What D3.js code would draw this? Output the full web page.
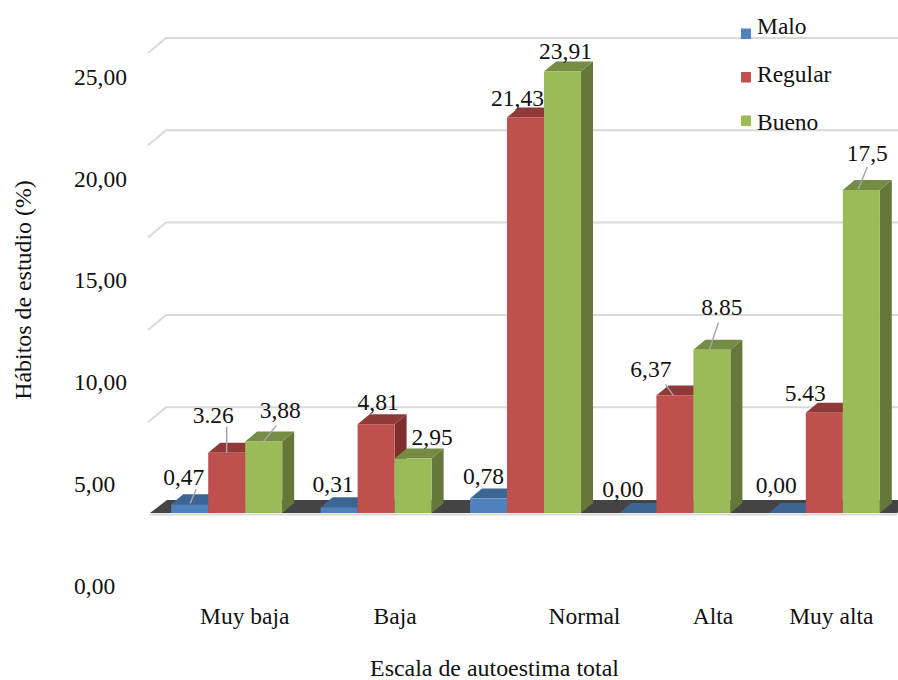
<!DOCTYPE html>
<html><head><meta charset="utf-8">
<script src="https://cdn.jsdelivr.net/npm/d3@7/dist/d3.min.js"></script>
<style>html,body{margin:0;background:#fff}svg{display:block}text{font-family:"Liberation Serif",serif;fill:#111}</style>
</head><body><svg id="c" width="898" height="680"></svg>
<script>
const categories = ["Muy baja","Baja","Normal","Alta","Muy alta"];
const seriesNames = ["Malo","Regular","Bueno"];
const malo = [0.47,0.31,0.78,0,0];
const regular = [3.26,4.81,21.43,6.37,5.43];
const bueno = [3.88,2.95,23.91,8.85,17.5];
const maloLabels = ["0,47","0,31","0,78","0,00","0,00"];
const regularLabels = ["3.26","4,81","21,43","6,37","5.43"];
const buenoLabels = ["3,88","2,95","23,91","8.85","17,5"];
const tickValues = [0,5,10,15,20,25];

// layout
const colors = [
 {front:"#4f81bd",top:"#3d6594",side:"#335680"},
 {front:"#c0504d",top:"#8f3a38",side:"#7f2f2d"},
 {front:"#9bbb59",top:"#748c43",side:"#65783a"}];
const labelOffsets = [
 [[-6,-19],[-6,-15],[-5,-14.6],[-15,-16],[-11,-20]],
 [[-13.5,-30],[2,-14],[-8,-11],[-24,-18],[-19,-11.6]],
 [[16.5,-23],[19,-13.5],[3,-13],[10,-35],[6,-29]]];
const leaders = [ // series, category, from dx,dy, to dx,dy relative to bar top centre
 [0,0,6.5,-15,0.5,-1],[1,0,0,-26,0,0],[2,0,12.5,-16,0,0],
 [1,3,-9.5,-11,-1.5,0],[2,3,6.5,-27,-2.5,0],[2,4,6,-23,-3,-1]];
const catDx = [18,19,59,38,7];
const FS = 23.5, D = {x:12,y:-10};

const svg = d3.select("#c");
const x0 = d3.scaleBand().domain(categories).range([152,899]).paddingInner(0.2570).paddingOuter(0.1285);
const x1 = d3.scaleBand().domain(seriesNames).range([0,x0.bandwidth()]);
const y = d3.scaleLinear().domain([0,25]).range([513,51.5]);
const yTick = d3.scaleLinear().domain([0,25]).range([585.5,77]);
const series = [malo,regular,bueno], labels = [maloLabels,regularLabels,buenoLabels];

// gridlines
const wall = {dx:18,dy:-15,back:-13.5};
const grid = svg.append("g").attr("fill","none").attr("stroke","#d9d9d9").attr("stroke-width",2);
tickValues.filter(v=>v>0).forEach(v=>{
  const yb = y(v)+wall.back;
  grid.append("path").attr("d",`M${148},${yb-wall.dy}L${148+wall.dx},${yb}L898,${yb}`);
});
// floor
const y0 = y(0);
svg.append("path").attr("d",`M${150},${y0}L${167},${y0-13}L915,${y0-13}L897,${y0}Z`).attr("fill","#444");
svg.append("line").attr("x1",150).attr("x2",897).attr("y1",y0+1.5).attr("y2",y0+1.5).attr("stroke","#d9d9d9").attr("stroke-width",2);

// bars
categories.forEach((c,i)=>{
  seriesNames.forEach((s,k)=>{
    const g = svg.append("g");
    const l = x0(c)+x1(s), w = x1.bandwidth(), t = y(series[k][i]), col = colors[k];
    g.append("path").attr("fill",col.side).attr("d",`M${l+w},${t}L${l+w+D.x},${t+D.y}L${l+w+D.x},${y0+D.y}L${l+w},${y0}Z`);
    g.append("path").attr("fill",col.top).attr("d",`M${l},${t}L${l+D.x},${t+D.y}L${l+w+D.x},${t+D.y}L${l+w},${t}Z`);
    g.append("rect").attr("x",l).attr("y",t).attr("width",w).attr("height",y0-t).attr("fill",col.front);
  });
});
// leaders
leaders.forEach(([k,i,a,b,c,d])=>{
  const cx = x0(categories[i])+x1(seriesNames[k])+x1.bandwidth()/2, t = y(series[k][i]);
  svg.append("line").attr("x1",cx+a).attr("y1",t+b).attr("x2",cx+c).attr("y2",t+d).attr("stroke","#a6a6a6").attr("stroke-width",1.5);
});
// data labels
categories.forEach((c,i)=>seriesNames.forEach((s,k)=>{
  const cx = x0(c)+x1(s)+x1.bandwidth()/2, t = y(series[k][i]), o = labelOffsets[k][i];
  svg.append("text").attr("x",cx+o[0]).attr("y",t+o[1]).attr("text-anchor","middle").attr("font-size",FS).text(labels[k][i]);
}));
// y axis
const ya = svg.append("g").attr("transform","translate(74,0)").call(d3.axisLeft(yTick).tickValues(tickValues).tickSize(0).tickFormat(d=>d3.format(".2f")(d).replace(".",",")));
ya.select(".domain").remove();
ya.selectAll("text").attr("x",0).attr("text-anchor","start").attr("font-size",FS).attr("font-family",null).style("fill","#111");
// x axis
const xa = svg.append("g").attr("transform","translate(0,607)").call(d3.axisBottom(x0).tickSize(0));
xa.select(".domain").remove();
xa.selectAll("text").attr("y",0).attr("dy","0.71em").attr("font-size",FS).attr("dx",(d,i)=>catDx[i]).style("fill","#111");
// titles
svg.append("text").attr("transform","translate(31,290) rotate(-90)").attr("text-anchor","middle").attr("font-size",23.9).text("Hábitos de estudio (%)");
svg.append("text").attr("x",494.5).attr("y",676).attr("text-anchor","middle").attr("font-size",23.9).text("Escala de autoestima total");
// legend
const lyText = d3.scalePoint().domain(seriesNames).range([33.5,130]);
const lySwatch = d3.scalePoint().domain(seriesNames).range([28.5,115.5]);
seriesNames.forEach((s,k)=>{
  svg.append("rect").attr("x",741).attr("y",lySwatch(s)).attr("width",10).attr("height",10.5).attr("fill",colors[k].front);
  svg.append("text").attr("x",757).attr("y",lyText(s)).attr("font-size",FS).text(s);
});
</script></body></html>
